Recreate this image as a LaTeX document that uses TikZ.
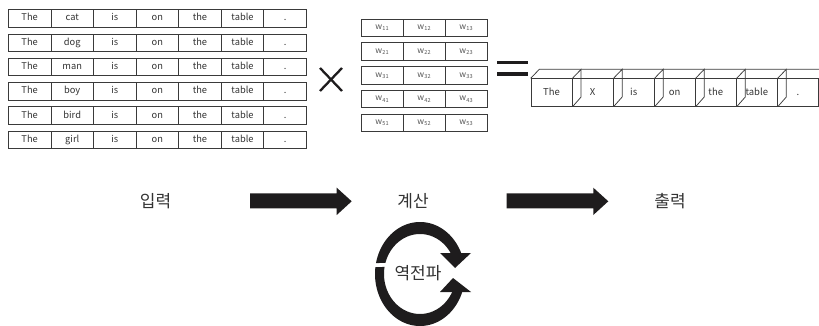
\documentclass[tikz,border=0pt]{standalone}
\usepackage{fontspec}
\setmainfont{Noto Sans CJK KR}
\definecolor{linec}{HTML}{3A3A3A}
\definecolor{txtc}{HTML}{333333}
\definecolor{wtxt}{HTML}{555555}
\definecolor{arrc}{HTML}{1E1C1D}
\newcommand\wlab[1]{w\kern0.2pt\raisebox{-1.3pt}{\fontsize{5.6}{6}\selectfont #1}}
\begin{document}
\begin{tikzpicture}[x=1pt,y=-1pt,
  cell/.style={draw=linec, line width=0.75pt, minimum width=42.57pt, minimum height=17.5pt,
    inner sep=0pt, anchor=north west, text height=6.8pt, text depth=1.8pt,
    font=\fontsize{9.3}{10}\selectfont, text=txtc},
  wcell/.style={draw=linec, line width=0.7pt, minimum width=42pt, minimum height=17.5pt,
    inner sep=0pt, anchor=north west, text height=5pt, text depth=1.5pt,
    font=\fontsize{8.5}{9}\selectfont, text=wtxt},
  obox/.style={draw=linec, line width=0.75pt, minimum width=41.04pt, minimum height=27.7pt,
    inner sep=0pt, anchor=north west, text height=6.8pt, text depth=1.8pt,
    font=\fontsize{9.5}{10}\selectfont, text=txtc},
  kor/.style={font=\fontsize{17}{18}\selectfont, text=txtc, inner sep=0pt},
  bigarrow/.style={fill=arrc},
  loopfill/.style={fill=arrc}
]
\useasboundingbox (0,0) rectangle (819,326);

% input sentence table
\foreach \wrd [count=\ri from 0] in {cat,dog,man,boy,bird,girl} {
  \foreach \tx [count=\ci from 0] in {The,\wrd,is,on,the,table,.} {
    \node[cell] (t\ri-\ci) at ({8+42.57*\ci},{9.3+24.3*\ri}) {\tx};
  }
}

% times sign
\draw[arrc, line width=2.3pt] (320,68) -- (342,91);
\draw[arrc, line width=2.3pt] (342,68) -- (320,91);

% weight matrix
\foreach \ri in {1,...,5} {
  \foreach \ci in {1,2,3} {
    \node[wcell] (w\ri\ci) at ({360.7+42*(\ci-1)},{18.6+23.8*(\ri-1)}) {\wlab{\ri\ci}};
  }
}

% equals sign
\fill[arrc] (497,61) rectangle (528,64.5);
\fill[arrc] (497,72.5) rectangle (528,76);

% output 3D boxes
\foreach \tx [count=\ci from 1] in {The,X,is,on,the,table,.} {
  \node[obox] (o\ci) at ({530.7+41.04*(\ci-1)},78.3) {\tx};
}
\draw[linec, line width=0.75pt] (o1.north west) -- ++(8.6,-9) coordinate (bk) -- (819,69.3);
\foreach \ci in {1,...,6} {
  \draw[linec, line width=0.75pt] (o\ci.north east) -- ++(8.6,-9) -- ++(0,27.7) -- (o\ci.south east);
}

% process labels
\node[kor] (in) at (155.5,201) {입력};
\node[kor] (calc) at (413,201) {계산};
\node[kor] (out) at (670,201) {출력};
\node[kor] (bp) at (418,273) {역전파};

% block arrows
\fill[bigarrow] (250,193.3) -- (336.7,193.3) -- (336.7,187.7) -- (351.7,201.3)
  -- (336.7,215) -- (336.7,208.3) -- (250,208.3) -- cycle;
\fill[bigarrow] (506.7,193.3) -- (593.3,193.3) -- (593.3,187.7) -- (608.3,201.3)
  -- (593.3,215) -- (593.3,208.3) -- (506.7,208.3) -- cycle;

% backpropagation loop (crescent-like bands between two ellipses)
\fill[loopfill] plot[domain=192.2:337.4, samples=80] ({420+45*cos(\x)},{274+52*sin(\x)})
  -- plot[domain=330:196, samples=80] ({420+36*cos(\x)},{274+40*sin(\x)}) -- cycle;
\fill[loopfill] plot[domain=20.3:187.7, samples=80] ({420+45*cos(\x)},{274+52*sin(\x)})
  -- plot[domain=190.1:26.7, samples=80] ({420+36*cos(\x)},{274+40*sin(\x)}) -- cycle;
\fill[arrc] (440,253) -- (471,253) -- (455,268) -- cycle;
\fill[arrc] (440,292) -- (471,292) -- (453,278) -- cycle;
\end{tikzpicture}
\end{document}
